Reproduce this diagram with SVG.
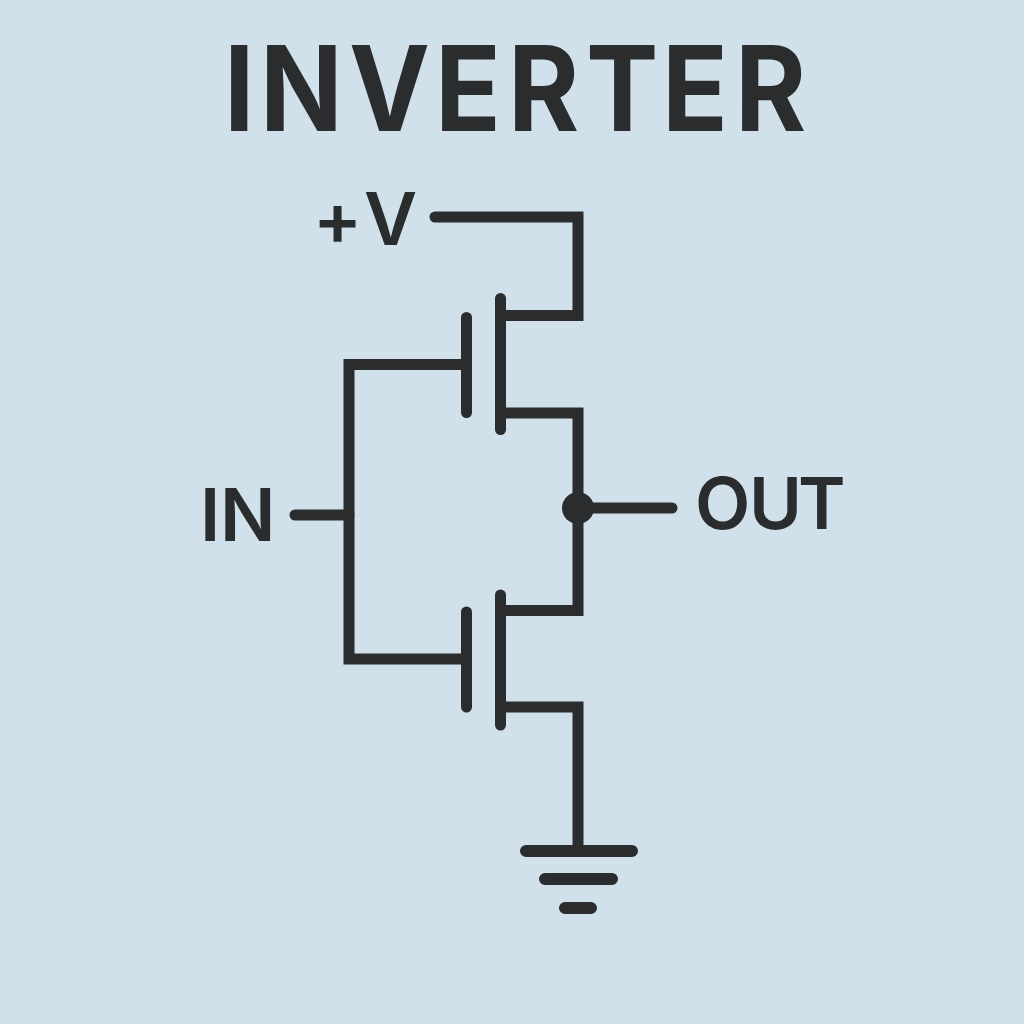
<svg xmlns="http://www.w3.org/2000/svg" width="1024" height="1024" viewBox="0 0 1024 1024">
<style>
.w{fill:none;stroke:#2b2c2d;stroke-width:11;stroke-linecap:round;stroke-linejoin:miter}
.g{stroke-width:12}
.t{font-family:"Inter","Liberation Sans",sans-serif;fill:#2b2c2d;font-weight:600;font-size:73px}
#title{font-weight:700;font-size:118px}
</style>
<rect id="background" width="1024" height="1024" fill="#d1e1ec"/>
<text id="title" class="t" transform="scale(.92 1)" x="243.500 282.500 379.400 472.900 552.100 637 719.600 799" y="131">INVERTER</text>
<g id="connectors">
<path class="w" d="M435 217H578V315.500H501"/>
<path class="w" d="M501 413H578V610.500H501"/>
<path class="w" d="M501 707H578V851"/>
<path class="w" d="M462 364.500H349V659H462"/>
<path class="w" d="M295 515H349"/>
<path class="w" d="M578 508H672"/>
</g>
<g id="pmos"><path class="w" d="M500.500 298.500V429.500M466.500 317.500V412.500"/></g>
<g id="nmos"><path class="w" d="M500.500 595V725M466.500 612V707"/></g>
<g id="out-node"><circle cx="578" cy="508" r="16" fill="#2b2c2d"/></g>
<g id="ground"><path class="w g" d="M526 851H632M545 879H612M565 908H591"/></g>
<g id="vplus"><text class="t" x="313 364" y="245">+V</text></g>
<g id="in"><text class="t" x="200 220" y="541">IN</text></g>
<g id="out"><text class="t" x="695 749 798" y="529" style="font-size:72px">OUT</text></g>
</svg>
